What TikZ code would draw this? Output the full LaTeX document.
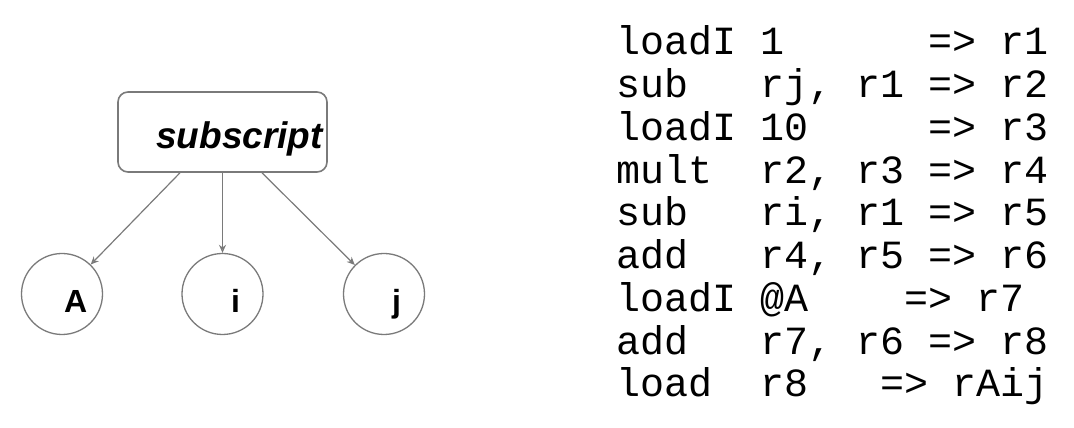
\documentclass[tikz,border=0pt]{standalone}
\usepackage{fontspec}
\newfontfamily\lsans{Liberation Sans}
\newfontfamily\lmono{Liberation Mono}
\usetikzlibrary{arrows.meta}
\definecolor{edgegray}{HTML}{7A7A7A}
\tikzset{
  opbox/.style={draw=edgegray, line width=1.6pt, rounded corners=10pt, minimum width=209pt, minimum height=80pt, inner sep=0pt},
  leaf/.style={draw=edgegray, line width=1.3pt, circle, minimum size=81pt, inner sep=0pt},
  leaflabel/.style={anchor=base west, inner sep=0pt, font=\lsans\bfseries\fontsize{32}{32}\selectfont},
  opname/.style={anchor=base east, inner sep=0pt, font=\lsans\bfseries\itshape\fontsize{37}{37}\selectfont},
  codeline/.style={anchor=base west, inner sep=0pt, font=\lmono\fontsize{40}{40}\selectfont},
  arr/.style={draw=edgegray, line width=1.2pt, -{Stealth[length=8pt,width=7pt,open]}},
}
\begin{document}
\begin{tikzpicture}[x=1pt,y=1pt]
\useasboundingbox (0,0) rectangle (1074,428);
% tree
\node[opbox] (sub) at (222.5,296) {};
\node[opname] (subtxt) at (323,279) {subscript};
\node[leaf] (A) at (62,134) {};
\node[leaf] (i) at (222.5,134) {};
\node[leaf] (j) at (384,134) {};
\node[leaflabel] (lA) at (64,115) {A};
\node[leaflabel] (li) at (231,115) {i};
\node[leaflabel] (lj) at (392,115) {j};
\draw[arr] ([xshift=-42.5pt]sub.south) -- (A);
\draw[arr] (sub.south) -- (i);
\draw[arr] ([xshift=39.5pt]sub.south) -- (j);
% code
\node[codeline] (c1) at (616,373) {loadI~1~~~~~~=>~r1};
\node[codeline] (c2) at (616,330.25) {sub~~~rj,~r1~=>~r2};
\node[codeline] (c3) at (616,287.5) {loadI~10~~~~~=>~r3};
\node[codeline] (c4) at (616,244.75) {mult~~r2,~r3~=>~r4};
\node[codeline] (c5) at (616,202) {sub~~~ri,~r1~=>~r5};
\node[codeline] (c6) at (616,159.25) {add~~~r4,~r5~=>~r6};
\node[codeline] (c7) at (616,116.5) {loadI~@A~~~~=>~r7};
\node[codeline] (c8) at (616,73.75) {add~~~r7,~r6~=>~r8};
\node[codeline] (c9) at (616,31) {load~~r8~~~=>~rAij};
\end{tikzpicture}
\end{document}
